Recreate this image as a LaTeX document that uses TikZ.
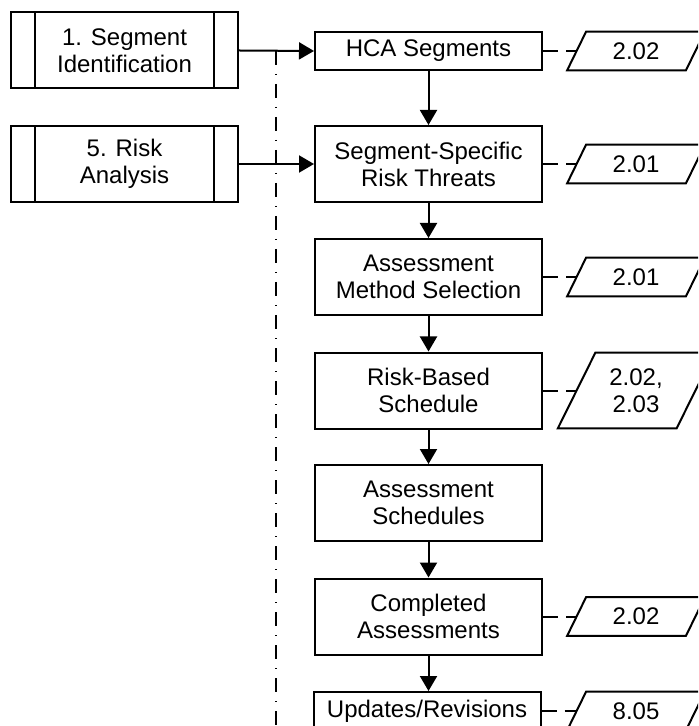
\documentclass[tikz,border=0pt]{standalone}
\usepackage{fontspec}
\setmainfont{Liberation Sans}
\usetikzlibrary{arrows.meta, positioning, calc}

\tikzset{
  proc/.style={draw, line width=1pt, minimum width=113.5pt, minimum height=19pt,
    inner sep=0pt, align=center, font=\fontsize{12}{13.5}\selectfont},
  tall/.style={minimum height=38pt},
  predef/.style={proc, tall, path picture={
      \draw[line width=1pt] ([xshift=12pt]path picture bounding box.north west) -- ([xshift=12pt]path picture bounding box.south west);
      \draw[line width=1pt] ([xshift=-12pt]path picture bounding box.north east) -- ([xshift=-12pt]path picture bounding box.south east);}},
  refbox/.style={minimum width=59pt, minimum height=19pt, inner sep=0pt, align=center,
    font=\fontsize{12}{13.5}\selectfont},
  flow/.style={line width=1pt, -{Triangle[length=7.5pt,width=8.5pt]}},
  refline/.style={line width=1pt, dash pattern=on 7.5pt off 4pt},
  busline/.style={line width=1pt, dash pattern=on 7pt off 4.5pt on 0.5pt off 4.5pt}
}

\begin{document}
\begin{tikzpicture}[x=0.5pt, y=-0.5pt]
  \useasboundingbox (0,0) rectangle (698,726);
  \clip (0,0) rectangle (698,726);

  % inputs from other processes
  \node[predef] (segid) at (124.5,50.5) {1. Segment\\Identification};
  \node[predef] (riskan) at (124.5,164) {5. Risk\\Analysis};

  % main column
  \node[proc] (hca) at (428.5,51) {HCA Segments};
  \node[proc, tall] (threats) at (428.5,164) {Segment-Specific\\Risk Threats};
  \node[proc, tall] (method) at (428.5,277) {Assessment\\Method Selection};
  \node[proc, tall] (rbs) at (428.5,390.5) {Risk-Based\\Schedule};
  \node[proc, tall] (asched) at (428.5,503) {Assessment\\Schedules};
  \node[proc, tall] (done) at (428.5,616.5) {Completed\\Assessments};
  \node[proc] (upd) at (427,711) {Updates/Revisions};

  % references
  \node[refbox] (ref1) at (636,51) {2.02};
  \node[refbox] (ref2) at (636,164) {2.01};
  \node[refbox] (ref3) at (636,277) {2.01};
  \node[refbox, minimum height=37.5pt] (ref4) at (636,390.5) {2.02,\\2.03};
  \node[refbox] (ref6) at (636,616.5) {2.02};
  \node[refbox] (ref7) at (636,711) {8.05};

  \foreach \n/\s in {ref1/4.75pt, ref2/4.75pt, ref3/4.75pt, ref4/9.4pt, ref6/4.75pt, ref7/4.75pt}
    \draw[line width=1pt] ([xshift=-\s]\n.south west) -- ([xshift=\s]\n.north west)
      -- ([xshift=\s]\n.north east) -- ([xshift=-\s]\n.south east) -- cycle;

  \foreach \a/\b in {hca/ref1, threats/ref2, method/ref3, rbs/ref4, done/ref6, upd/ref7}
    \draw[refline] (\a.east) -- (\b.west);

  % flow
  \draw[flow] (segid.east) -- (hca.west);
  \draw[flow] (riskan.east) -- (threats.west);
  \foreach \a/\b in {hca/threats, threats/method, method/rbs, rbs/asched, asched/done}
    \draw[flow] (\a.south) -- (\b.north);
  \draw[flow] (done.south) -- (done.south |- upd.north);

  % boundary
  \coordinate (bustop) at (276,51);
  \coordinate (busend) at (276,740);
  \draw[busline] (bustop) -- (busend);
\end{tikzpicture}
\end{document}
